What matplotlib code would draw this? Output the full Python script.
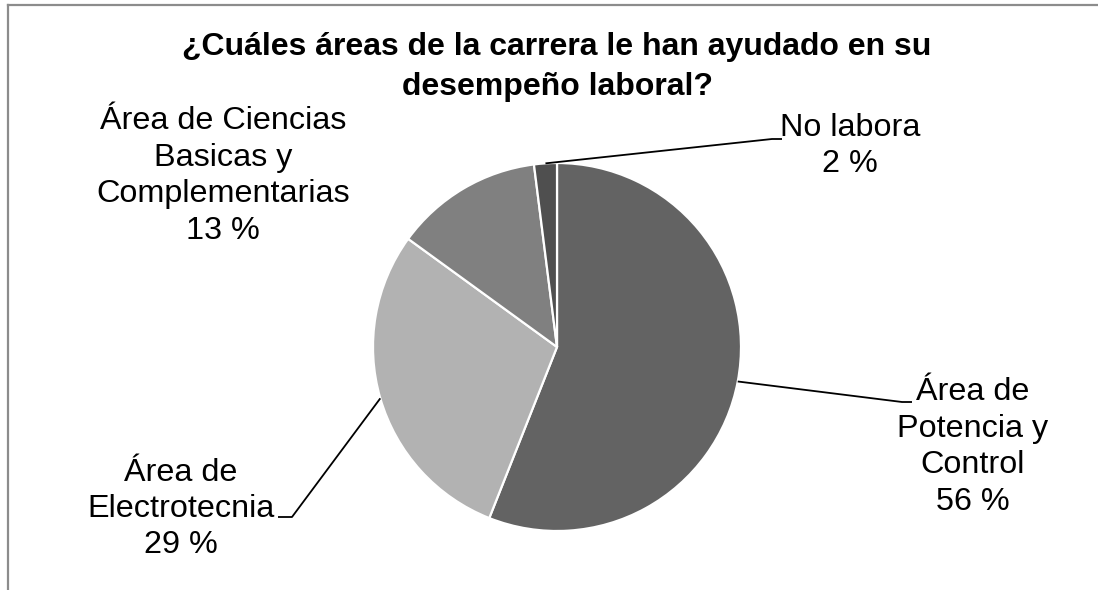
import numpy as np
import matplotlib.pyplot as plt
from matplotlib.lines import Line2D

plt.rcParams['font.family'] = ['Liberation Sans', 'DejaVu Sans']

# Data
categories = ["Área de\nPotencia y\nControl", "Área de\nElectrotecnia",
              "Área de Ciencias\nBasicas y\nComplementarias", "No labora"]
shares = [56, 29, 13, 2]
colors = ["#636363", "#b2b2b2", "#808080", "#4f4f4f"]

W, H = 1098, 590
fig = plt.figure(figsize=(W / 100, H / 100), dpi=100)
ax = fig.add_axes([0, 0, 1, 1])

# pie placed in pixel space (y measured up from the bottom)
cx, cy, r = 557, H - 347, 184
wedges, _ = ax.pie(shares, colors=colors, startangle=90, counterclock=False,
                   center=(cx, cy), radius=r, frame=True,
                   wedgeprops=dict(edgecolor="white", linewidth=1.6))
ax.set_xlim(0, W)
ax.set_ylim(0, H)
ax.set_aspect('equal')
ax.axis('off')

# label block centres and leader elbows (pixel layout)
label_pos = [(973, H - 447), (181, H - 509), (223, H - 176), (850, H - 146)]
elbows = [((902, H - 402), (912, H - 402)),
          ((292, H - 517), (278, H - 517)),
          None,
          ((772, H - 139), (782, H - 139))]

for w, cat, val, pos, elb in zip(wedges, categories, shares, label_pos, elbows):
    ax.text(pos[0], pos[1], f"{cat}\n{val} %", ha="center", va="center",
            fontsize=23.3, linespacing=1.28)
    if elb is None:
        continue
    mid = np.deg2rad((w.theta1 + w.theta2) / 2)
    sx, sy = cx + r * np.cos(mid), cy + r * np.sin(mid)
    ax.plot([sx, elb[0][0], elb[1][0]], [sy, elb[0][1], elb[1][1]],
            color="black", linewidth=1.3, solid_capstyle="butt")

ax.text(557, H - 67, "¿Cuáles áreas de la carrera le han ayudado en su\ndesempeño laboral?",
        ha="center", va="center", fontsize=23, fontweight="bold", linespacing=1.43)

# chart frame (only top/left edges fall inside the image)
fig.add_artist(Line2D([8 / W, 1], [1 - 5 / H, 1 - 5 / H], color="#8c8c8c", linewidth=1.6,
                      transform=fig.transFigure))
fig.add_artist(Line2D([8 / W, 8 / W], [0, 1 - 5 / H], color="#8c8c8c", linewidth=1.6,
                      transform=fig.transFigure))

fig.savefig("out.png", dpi=100)
